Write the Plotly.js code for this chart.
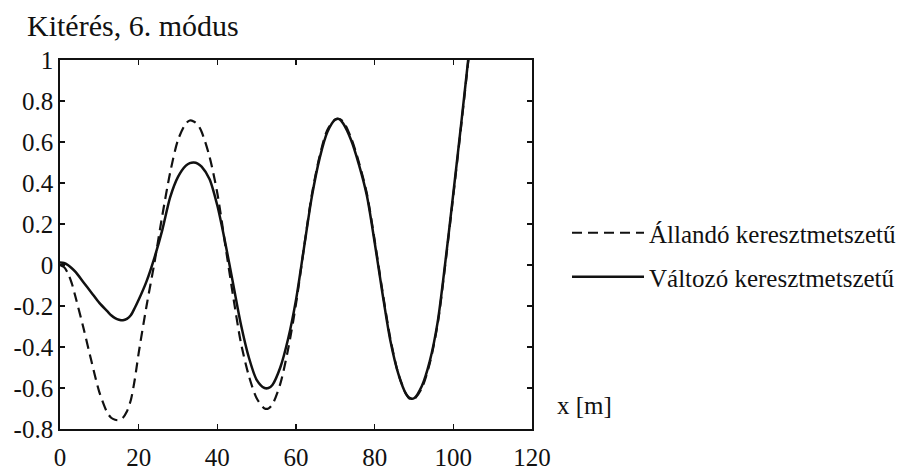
<!DOCTYPE html>
<html>
<head>
<meta charset="utf-8">
<script src="https://cdn.plot.ly/plotly-3.0.1.min.js"></script>
<style>html,body{margin:0;padding:0;background:#fff;}#chart{width:918px;height:470px;}</style>
</head>
<body>
<div id="chart"></div>
<script>
// x positions [m]
var xPos = [0,1,2,3,4,6,8,10,12,13,14,15,16,17,18,19,20,22,24,26,28,30,32,33,34,35,36,38,40,42,44,46,48,50,52,53,54,56,58,60,62,64,66,68,70,71,72,74,76,78,80,82,84,86,88,89,90,92,94,96,98,100,102,104];
// Állandó keresztmetszetű (dashed)
var allando = [0,-0.01,-0.04,-0.09,-0.16,-0.31,-0.47,-0.62,-0.72,-0.745,-0.755,-0.757,-0.745,-0.715,-0.66,-0.56,-0.43,-0.20,0.01,0.24,0.45,0.61,0.69,0.705,0.70,0.685,0.65,0.53,0.35,0.10,-0.15,-0.38,-0.54,-0.65,-0.70,-0.70,-0.68,-0.58,-0.41,-0.19,0.08,0.34,0.53,0.66,0.71,0.712,0.70,0.62,0.50,0.35,0.12,-0.13,-0.36,-0.53,-0.63,-0.655,-0.655,-0.60,-0.48,-0.29,0.01,0.34,0.68,1.03];
// Változó keresztmetszetű (solid)
var valtozo = [0.012,0.01,0.0,-0.016,-0.035,-0.085,-0.135,-0.185,-0.225,-0.245,-0.259,-0.267,-0.27,-0.263,-0.245,-0.21,-0.17,-0.08,0.035,0.17,0.33,0.43,0.485,0.497,0.50,0.495,0.48,0.42,0.29,0.11,-0.09,-0.29,-0.45,-0.56,-0.60,-0.60,-0.585,-0.50,-0.36,-0.17,0.08,0.33,0.52,0.65,0.71,0.712,0.69,0.61,0.49,0.34,0.11,-0.14,-0.37,-0.53,-0.63,-0.65,-0.65,-0.59,-0.47,-0.28,0.02,0.35,0.69,1.04];
var seriesNames = ["Állandó keresztmetszetű", "Változó keresztmetszetű"];
var xTicks = [0,20,40,60,80,100,120];
var yTicks = [-0.8,-0.6,-0.4,-0.2,0,0.2,0.4,0.6,0.8,1];
var yTickText = ["-0.8","-0.6","-0.4","-0.2","0","0.2","0.4","0.6","0.8","1"];
var titleText = "Kitérés, 6. módus";
var xLabel = "x [m]";

var serif = "Liberation Serif";

var traces = [
  {x: xPos, y: allando, name: seriesNames[0], mode: "lines", type: "scatter",
   line: {color: "#111", width: 2.2, dash: "10px,6px", shape: "spline", smoothing: 0.8}, legend: "legend"},
  {x: xPos, y: valtozo, name: seriesNames[1], mode: "lines", type: "scatter",
   line: {color: "#111", width: 2.5, shape: "spline", smoothing: 0.8}, legend: "legend2"}
];

var axisCommon = {
  showline: true, linecolor: "#111", linewidth: 1.8, mirror: "ticks",
  ticks: "inside", ticklen: 5, tickwidth: 1.4, tickcolor: "#111",
  showgrid: false, zeroline: false,
  tickfont: {family: serif, size: 25, color: "#111"}
};

var legendCommon = {
  xref: "paper", yref: "paper", xanchor: "left", yanchor: "middle",
  bgcolor: "rgba(0,0,0,0)", borderwidth: 0, itemwidth: 72,
  font: {family: serif, size: 25, color: "#111"}
};

var layout = {
  width: 918, height: 470,
  margin: {l: 60, r: 386, t: 60, b: 41},
  paper_bgcolor: "#fff", plot_bgcolor: "#fff",
  font: {family: serif, color: "#111"},
  title: {text: titleText, xref: "container", yref: "container", x: 27/918, xanchor: "left",
          y: 1 - 25.5/470, yanchor: "middle", font: {family: serif, size: 30, color: "#111"}},
  xaxis: Object.assign({}, axisCommon, {range: [0, 120], tickmode: "array", tickvals: xTicks, ticklabelstandoff: 5}),
  yaxis: Object.assign({}, axisCommon, {range: [-0.8, 1], tickmode: "array", tickvals: yTicks, ticktext: yTickText}),
  showlegend: true,
  legend: Object.assign({}, legendCommon, {x: (567 - 60) / 472, y: (429 - 233) / 369}),
  legend2: Object.assign({}, legendCommon, {x: (567 - 60) / 472, y: (429 - 277) / 369}),
  annotations: [
    {text: xLabel, xref: "paper", yref: "paper", x: (555 - 60) / 472, y: (429 - 405) / 369,
     xanchor: "left", yanchor: "middle", showarrow: false,
     font: {family: serif, size: 25, color: "#111"}}
  ]
};

Plotly.newPlot("chart", traces, layout, {displayModeBar: false, staticPlot: true});
</script>
</body>
</html>
